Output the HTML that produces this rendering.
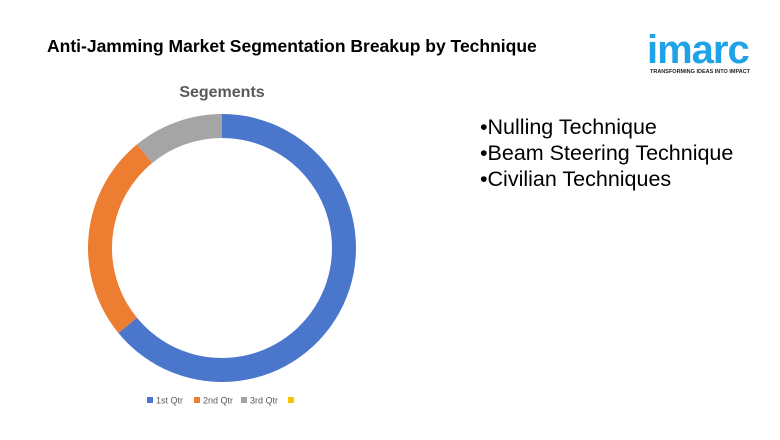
<!DOCTYPE html>
<html><head><meta charset="utf-8"><style>
body{margin:0;width:780px;height:440px;background:#fff;overflow:hidden;font-family:"Liberation Sans",sans-serif;position:relative}
.t{position:absolute}
</style></head><body>
<div class="t" style="left:47px;top:36px;font-size:17.5px;font-weight:bold;color:#000;white-space:nowrap">Anti-Jamming Market Segmentation Breakup by Technique</div>
<div class="t" style="left:647px;top:28px;font-size:40px;font-weight:bold;color:#1fa3e6;letter-spacing:-1px;line-height:44px">imarc</div>
<div class="t" style="left:650px;top:69px;font-size:5.5px;font-weight:bold;color:#222;white-space:nowrap">TRANSFORMING IDEAS INTO IMPACT</div>
<div class="t" style="left:480px;top:114px;font-size:21.5px;line-height:26px;color:#000">
<div>•Nulling Technique</div>
<div>•Beam Steering Technique</div>
<div>•Civilian Techniques</div>
</div>
<svg id="c" width="780" height="440" style="position:absolute;left:0;top:0">
<text x="222" y="97" text-anchor="middle" font-size="16" font-weight="bold" fill="#595959" font-family="Liberation Sans, sans-serif">Segements</text>
</svg>
<script>
const categories=["1st Qtr","2nd Qtr","3rd Qtr",""];
const values=[8.2,3.2,1.4,0];
const colors=["#4a76cc","#ed7d31","#a5a5a5","#ffc000"];
const svg=document.getElementById('c');const NS="http://www.w3.org/2000/svg";
const cx=222,cy=248,R=134,r=110;
const total=values.reduce((a,b)=>a+b,0);
let a0=0;
function pt(a,rad){return [cx+rad*Math.sin(a),cy-rad*Math.cos(a)];}
values.forEach((v,i)=>{
 if(v<=0)return;
 const a1=a0+v/total*2*Math.PI;const lg=(a1-a0)>Math.PI?1:0;
 const [x1,y1]=pt(a0,R),[x2,y2]=pt(a1,R),[x3,y3]=pt(a1,r),[x4,y4]=pt(a0,r);
 const p=document.createElementNS(NS,'path');
 p.setAttribute('d',`M${x1},${y1}A${R},${R} 0 ${lg} 1 ${x2},${y2}L${x3},${y3}A${r},${r} 0 ${lg} 0 ${x4},${y4}Z`);
 p.setAttribute('fill',colors[i]);
 
 
 svg.appendChild(p);a0=a1;
});
let lx=147;
categories.forEach((c,i)=>{
 const s=document.createElementNS(NS,'rect');
 s.setAttribute('x',lx);s.setAttribute('y',397);s.setAttribute('width',6);s.setAttribute('height',6);s.setAttribute('fill',colors[i]);
 
 
 svg.appendChild(s);
 const t=document.createElementNS(NS,'text');
 t.setAttribute('x',lx+9);t.setAttribute('y',403.5);t.setAttribute('font-size','9');t.setAttribute('fill','#595959');t.setAttribute('font-family','Liberation Sans, sans-serif');
 t.textContent=c;
 
 
 svg.appendChild(t);
 lx+=47;
});
</script>
</body></html>
